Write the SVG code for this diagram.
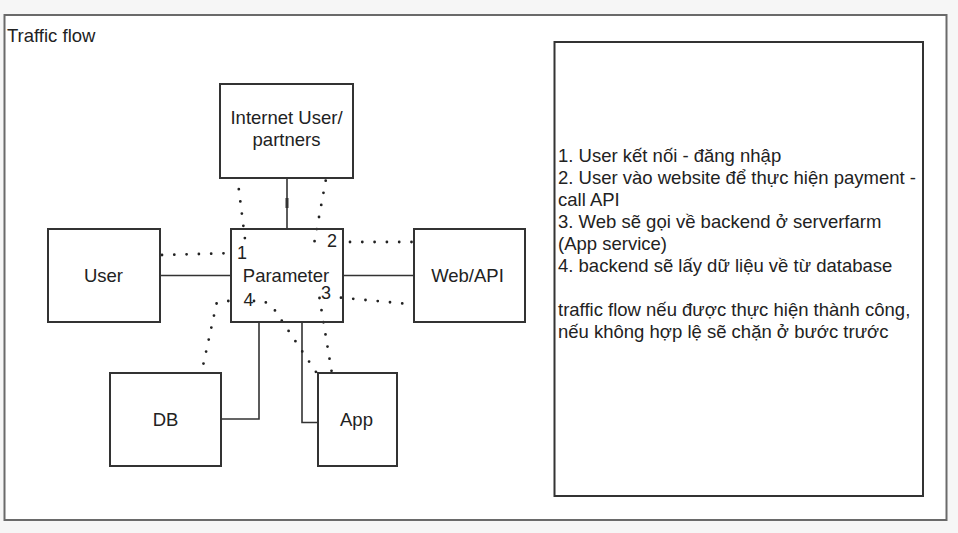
<svg xmlns="http://www.w3.org/2000/svg" width="958" height="533" viewBox="0 0 958 533">
<style>
  text { font-family: "Liberation Sans", Arial, sans-serif; font-size: 18.5px; fill: #222; }
  .c { text-anchor: middle; }
  .num { font-size: 18px; }
  .node { fill: #fff; stroke: #333; stroke-width: 2; }
  .solid { fill: none; stroke: #333; stroke-width: 1.6; }
  .dot { fill: none; stroke: #222; stroke-width: 2.8; stroke-linecap: round; stroke-dasharray: 0 12.3; }
</style>
<rect width="958" height="533" fill="#f6f6f6"/>
<g id="frame">
  <rect x="4.5" y="15" width="942" height="505" fill="#fff" stroke="#6a6a6a" stroke-width="2"/>
  <text x="7" y="42">Traffic flow</text>
</g>
<g id="connectors">
  <path class="solid" d="M287,178 V229"/>
  <path d="M287,198 V208" stroke="#333" stroke-width="3"/>
  <path class="solid" d="M160,275.5 H231"/>
  <path class="solid" d="M343,275.5 H414"/>
  <path class="solid" d="M259,322 V419 H221"/>
  <path class="solid" d="M302,322 V422.5 H318"/>
  <path class="dot" d="M162,255 L234,253"/>
  <path class="dot" d="M237.3,177 L245,239"/>
  <path class="dot" d="M325.7,180.7 L314.5,241.5"/>
  <path class="dot" d="M350,242 L414,242"/>
  <path class="dot" d="M341,297.7 L414,304.5"/>
  <path class="dot" d="M319.5,298 L331.7,372"/>
  <path class="dot" d="M228.3,301 L216.7,303 L201,375"/>
  <path class="dot" d="M254,301 L264,301 L273.3,308 L316,372"/>
</g>
<g id="internet">
  <rect class="node" x="220" y="84" width="133" height="94"/>
  <text class="c" x="286.5" y="124">Internet User/</text>
  <text class="c" x="286.5" y="146">partners</text>
</g>
<g id="parameter">
  <rect class="node" x="231" y="229" width="112" height="93" fill-opacity="0"/>
  <text class="c" x="286" y="281.5">Parameter</text>
</g>
<g id="user">
  <rect class="node" x="48" y="229" width="112" height="93"/>
  <text class="c" x="103.5" y="282">User</text>
</g>
<g id="webapi">
  <rect class="node" x="414" y="229" width="111" height="93"/>
  <text class="c" x="467.5" y="282">Web/API</text>
</g>
<g id="db">
  <rect class="node" x="110" y="373" width="111" height="93"/>
  <text class="c" x="165.5" y="426">DB</text>
</g>
<g id="app">
  <rect class="node" x="318" y="373" width="79" height="93"/>
  <text class="c" x="356.5" y="426">App</text>
</g>
<g id="labels">
  <text class="num" x="237" y="259.3">1</text>
  <text class="num" x="327" y="247.3">2</text>
  <text class="num" x="321" y="299.3">3</text>
  <text class="num" x="243.5" y="305.7">4</text>
</g>
<g id="notes">
  <rect x="554.5" y="42" width="368.5" height="454" fill="#fff" stroke="#333" stroke-width="2"/>
  <text x="558" y="162">1. User kết nối - đăng nhập</text>
  <text x="558" y="184">2. User vào website để thực hiện payment -</text>
  <text x="558" y="206">call API</text>
  <text x="558" y="228">3. Web sẽ gọi về backend ở serverfarm</text>
  <text x="558" y="250">(App service)</text>
  <text x="558" y="272">4. backend sẽ lấy dữ liệu về từ database</text>
  <text x="558" y="316">traffic flow nếu được thực hiện thành công,</text>
  <text x="558" y="338">nếu không hợp lệ sẽ chặn ở bước trước</text>
</g>
</svg>
